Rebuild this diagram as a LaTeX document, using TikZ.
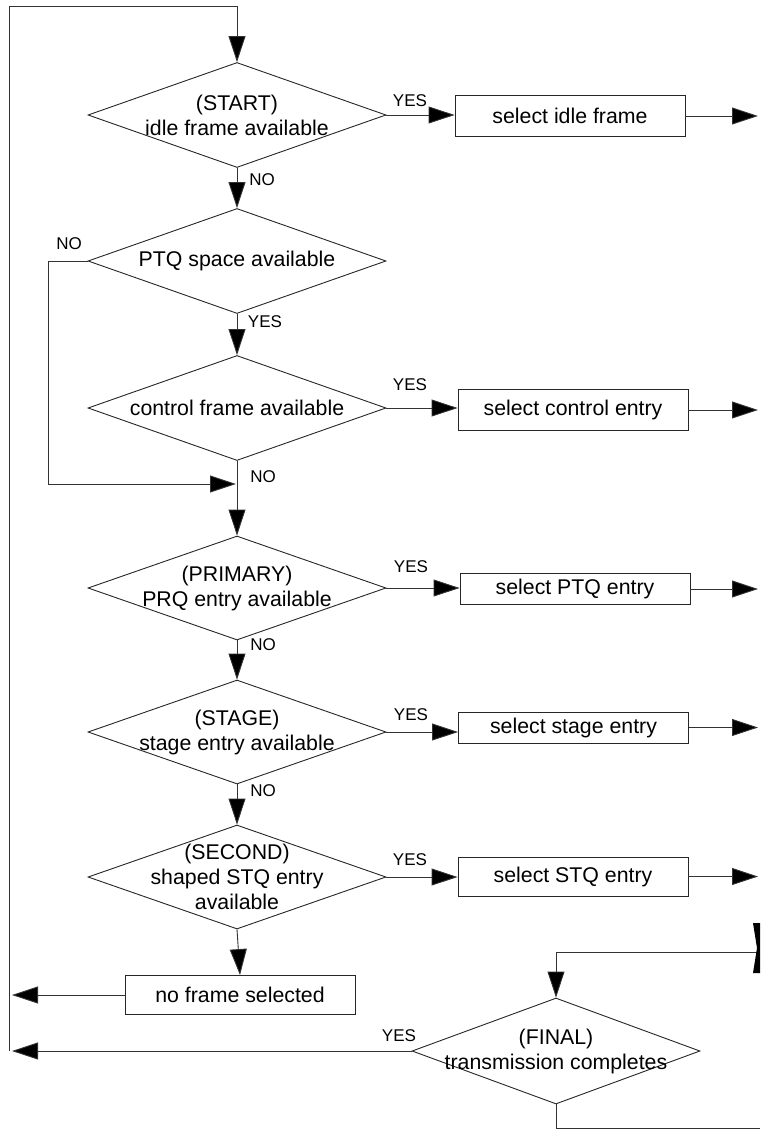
\documentclass[tikz,border=0pt]{standalone}
\usepackage{fontspec}
\setmainfont{Liberation Sans}
\usetikzlibrary{shapes.geometric,arrows.meta}
\begin{document}
\begin{tikzpicture}[x=1pt,y=-1pt,
  line/.style={draw=black!80,line width=0.9pt},
  arr/.style={line,-{Triangle[length=26pt,width=17pt,fill=black]}},
  dia/.style={diamond,draw=black!85,line width=0.9pt,minimum width=298pt,minimum height=105pt,inner sep=0pt},
  dtext/.style={align=center,inner sep=0pt,font=\fontsize{21.3}{25}\selectfont},
  box/.style={rectangle,draw=black!85,line width=0.9pt,minimum width=230pt,inner sep=0pt,font=\fontsize{21.3}{25}\selectfont},
  lab/.style={inner sep=0pt,font=\fontsize{17}{20}\selectfont}]
\useasboundingbox (0,0) rectangle (760,1129);
% decisions
\node[dia] (d1) at (237,115) {};
\node[dtext] (d1t) at (d1.center) {(START)\\idle frame available};
\node[dia] (d2) at (237,261) {};
\node[dtext] (d2t) at (d2.center) {PTQ space available};
\node[dia] (d3) at (237,408) {};
\node[dtext] (d3t) at (d3.center) {control frame available};
\node[dia,minimum height=104pt] (d4) at (237,588) {};
\node[dtext] (d4t) at (d4.center) {(PRIMARY)\\PRQ entry available};
\node[dia,minimum height=104pt] (d5) at (237,732) {};
\node[dtext] (d5t) at (d5.center) {(STAGE)\\stage entry available};
\node[dia,minimum height=104pt] (d6) at (237,877) {};
\node[dtext] (d6t) at (d6.center) {(SECOND)\\shaped STQ entry\\available};
\node[dia,minimum width=288pt,minimum height=106pt] (d7) at (556,1051) {};
\node[dtext] (d7t) at (d7.center) {(FINAL)\\transmission completes};
% boxes
\node[box,minimum height=41pt] (b1) at (570,116) {select idle frame};
\node[box,minimum height=41pt] (b2) at (573,410) {select control entry};
\node[box,minimum height=31pt] (b3) at (575,589) {select PTQ entry};
\node[box,minimum height=31pt] (b4) at (573.5,727.5) {select stage entry};
\node[box,minimum height=39pt] (b5) at (573,876.5) {select STQ entry};
\node[box,minimum height=39pt] (b6) at (240,995) {no frame selected};
% coordinates
\coordinate (lb) at (9,1051);
\coordinate (lt) at (9,6);
\coordinate (nol) at (48,261);
\coordinate (join) at (236,484);
\coordinate (r1) at (758,116);
\coordinate (r2) at (758,410);
\coordinate (r3) at (758,589);
\coordinate (r4) at (758,727.5);
\coordinate (r5) at (758,876.5);
\coordinate (l6) at (12,995);
\coordinate (l7) at (12,1051);
\coordinate (ft) at (760,952);
\coordinate (fb) at (760,1128);
% main loop
\draw[arr] (lb) -- (lt) -| (d1.north);
\draw[arr] (d1.south) -- (d2.north);
\draw[arr] (d2.south) -- (d3.north);
\draw[arr] (d3.south) -- (d4.north);
\draw[arr] (d4.south) -- (d5.north);
\draw[arr] (d5.south) -- (d6.north);
\draw[arr] (d6.south) -- (b6.north);
\draw[arr] (d2.west) -- (nol) |- (join);
% yes branches
\draw[arr] (d1.east) -- (d1.east -| b1.west);
\draw[arr] (d3.east) -- (d3.east -| b2.west);
\draw[arr] (d4.east) -- (d4.east -| b3.west);
\draw[arr] (d5.east) -- (d5.east -| b4.west);
\draw[arr] (d6.east) -- (d6.east -| b5.west);
\draw[arr] (b1.east) -- (r1);
\draw[arr] (b2.east) -- (r2);
\draw[arr] (b3.east) -- (r3);
\draw[arr] (b4.east) -- (r4);
\draw[arr] (b5.east) -- (r5);
\draw[arr] (b6.west) -- (l6);
\draw[arr] (d7.west) -- (l7);
% final loop
\draw[arr] (ft) -| (d7.north);
\draw[line] (d7.south) |- (fb);
\fill[black] (753,923) -- (760,923) -- (760,973) -- (753,973) -- (757,948) -- cycle;
% labels
\node[lab] (y1) at (410,101) {YES};
\node[lab] (n1) at (262,180) {NO};
\node[lab] (n2) at (69,244) {NO};
\node[lab] (y2) at (265,322) {YES};
\node[lab] (y3) at (410,385) {YES};
\node[lab] (n3) at (263,477) {NO};
\node[lab] (y4) at (411,567) {YES};
\node[lab] (n4) at (263,645) {NO};
\node[lab] (y5) at (411,715) {YES};
\node[lab] (n5) at (263,791) {NO};
\node[lab] (y6) at (410,860) {YES};
\node[lab] (y7) at (399,1036) {YES};
\end{tikzpicture}
\end{document}
